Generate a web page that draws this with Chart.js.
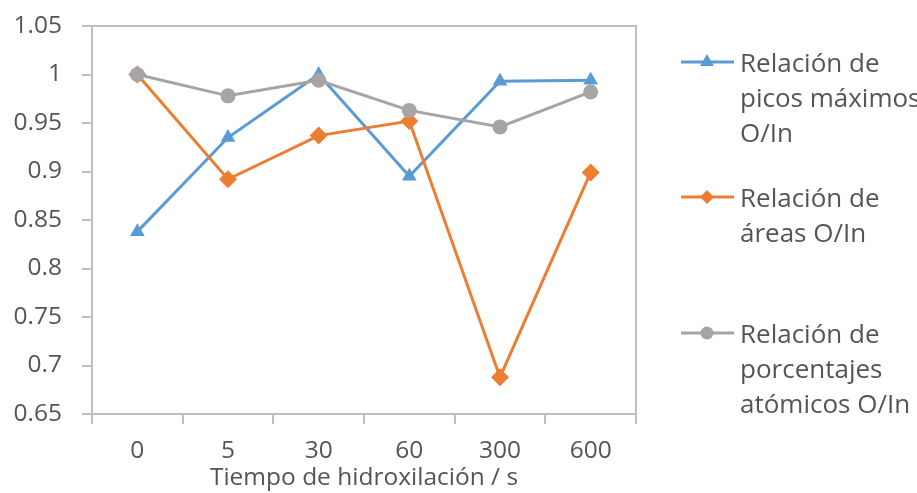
<!DOCTYPE html>
<html>
<head>
<meta charset="utf-8">
<script src="https://cdn.jsdelivr.net/npm/chart.js@4.4.0/dist/chart.umd.min.js"></script>
<style>
  html, body { margin: 0; padding: 0; background: #fff; }
  #wrap { position: relative; width: 917px; height: 493px; overflow: hidden; }
  #c { position: absolute; left: 0; top: 0; }
  .leg { position: absolute; left: 681px; font-family: "Open Sans", sans-serif; font-size: 26px; line-height: 35px; color: #555555; white-space: nowrap; }
  .leg svg { position: absolute; left: 0; }
  .leg .txt { position: absolute; left: 59px; top: 0; }
</style>
</head>
<body>
<div id="wrap">
  <canvas id="c" width="917" height="493"></canvas>
</div>
<script>
const categories = ["0", "5", "30", "60", "300", "600"];
const picosMaximos = [0.838, 0.935, 1.000, 0.895, 0.993, 0.994];
const areas = [1.000, 0.892, 0.937, 0.952, 0.688, 0.899];
const porcentajes = [1.000, 0.978, 0.994, 0.963, 0.946, 0.982];
const yTicks = [0.65, 0.7, 0.75, 0.8, 0.85, 0.9, 0.95, 1, 1.05];
const seriesNames = [
  ["Relación de", "picos máximos", "O/In"],
  ["Relación de", "áreas O/In"],
  ["Relación de", "porcentajes", "atómicos O/In"]
];
const xTitle = "Tiempo de hidroxilación / s";

const colors = ["#5B9BD5", "#ED7D31", "#A5A5A5"];
const markers = ["triangle", "rectRot", "circle"];
const markerRadius = [8.5, 9, 7.5];
const axisColor = "#BFBFBF";
const textColor = "#555555";
const font = { family: "'Open Sans', sans-serif", size: 24.5 };

const frame = {
  id: 'frame',
  afterDraw(chart) {
    const { ctx, chartArea: a } = chart;
    ctx.save();
    ctx.strokeStyle = axisColor;
    ctx.lineWidth = 2;
    ctx.beginPath();
    ctx.moveTo(a.left - 10, a.top);
    ctx.lineTo(a.right, a.top);
    ctx.lineTo(a.right, a.bottom + 10);
    ctx.stroke();
    ctx.restore();
  }
};

const dataSets = [picosMaximos, areas, porcentajes];
const chart = new Chart(document.getElementById('c'), {
  type: 'line',
  data: {
    labels: categories,
    datasets: dataSets.map((d, i) => ({
      label: seriesNames[i].join(' '),
      data: d,
      borderColor: colors[i],
      backgroundColor: colors[i],
      borderWidth: 3,
      pointStyle: markers[i],
      pointRadius: markerRadius[i],
      pointHoverRadius: markerRadius[i],
      pointBorderWidth: 0,
      tension: 0,
      order: 2 - i
    }))
  },
  options: {
    responsive: false,
    animation: false,
    layout: { padding: { top: 26, right: 281, left: 0, bottom: 0 } },
    plugins: { legend: { display: false }, tooltip: { enabled: false } },
    scales: {
      x: {
        offset: true,
        grid: { drawOnChartArea: false, drawTicks: true, tickLength: 10, color: axisColor, lineWidth: 2, offset: true },
        border: { color: axisColor, width: 2 },
        ticks: { color: textColor, font: font, padding: 12, maxRotation: 0 },
        title: { display: true, text: xTitle, color: textColor, font: font, padding: { top: -5, bottom: 0 } },
        afterFit(s) { s.height = 79; s.paddingLeft = 0; s.paddingRight = 0; }
      },
      y: {
        min: 0.65, max: 1.05,
        afterBuildTicks(s) { s.ticks = yTicks.map(v => ({ value: v })); },
        grid: { drawOnChartArea: false, drawTicks: true, tickLength: 10, color: axisColor, lineWidth: 2 },
        border: { color: axisColor, width: 2 },
        ticks: { color: textColor, font: font, padding: 20, callback: v => String(Math.round(v * 100) / 100) },
        afterFit(s) { s.width = 92; s.paddingTop = 0; s.paddingBottom = 0; }
      }
    }
  },
  plugins: [frame]
});

// HTML legend
const legendCenters = [62, 197, 333];
const wrap = document.getElementById('wrap');
seriesNames.forEach((lines, i) => {
  const div = document.createElement('div');
  div.className = 'leg';
  div.style.top = (legendCenters[i] - 17) + 'px';
  let marker = '';
  if (markers[i] === 'triangle') marker = `<polygon points="26,10 33,22 19,22" fill="${colors[i]}"/>`;
  else if (markers[i] === 'rectRot') marker = `<polygon points="26,11 33,18 26,25 19,18" fill="${colors[i]}"/>`;
  else marker = `<circle cx="26" cy="18" r="6.5" fill="${colors[i]}"/>`;
  div.innerHTML = `<svg width="54" height="36" style="top:-1px"><line x1="0" y1="18" x2="53" y2="18" stroke="${colors[i]}" stroke-width="3"/>${marker}</svg><div class="txt">${lines.join('<br>')}</div>`;
  wrap.appendChild(div);
});
</script>
</body>
</html>
